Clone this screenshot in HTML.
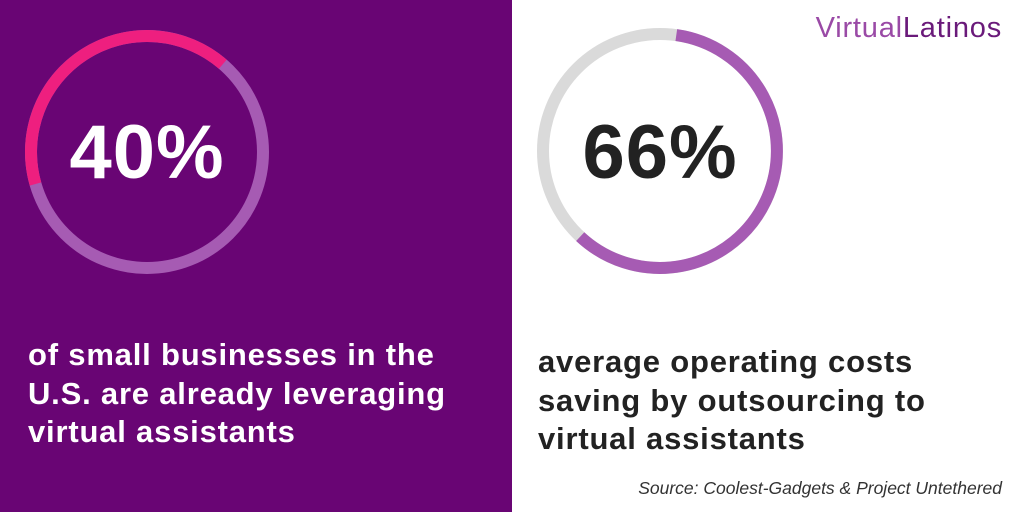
<!DOCTYPE html>
<html><head><style>
body{margin:0;width:1024px;height:512px;overflow:hidden;background:#fff;font-family:"Liberation Sans",sans-serif;position:relative}
.l{position:absolute;left:0;top:0;width:512px;height:512px;background:#690574}
.t{position:absolute;font-weight:bold;font-size:31px;line-height:38.5px;letter-spacing:0.8px;white-space:nowrap}
</style></head><body>
<div class="l"></div>
<svg width="1024" height="512" style="position:absolute;left:0;top:0">
<circle cx="147" cy="152" r="116" fill="none" stroke="#a65bb3" stroke-width="12"/>
<path d="M 222.8 64.2 A 116 116 0 0 0 35.5 184.0" fill="none" stroke="#ee1f7f" stroke-width="12"/>
<circle cx="660" cy="151" r="117" fill="none" stroke="#dadada" stroke-width="12"/>
<path d="M 676.3 35.1 A 117 117 0 1 1 580.2 236.6" fill="none" stroke="#a65bb3" stroke-width="12"/>
<text x="147" y="178" text-anchor="middle" font-family="Liberation Sans" font-weight="bold" font-size="76" fill="#fff" letter-spacing="1">40%</text>
<text x="660" y="178" text-anchor="middle" font-family="Liberation Sans" font-weight="bold" font-size="76" fill="#222" letter-spacing="1">66%</text>
</svg>
<div class="t" style="left:28px;top:336px;color:#fff">of small businesses in the<br>U.S. are already leveraging<br>virtual assistants</div>
<div class="t" style="left:538px;top:343px;color:#222">average operating costs<br>saving by outsourcing to<br>virtual assistants</div>
<div style="position:absolute;right:22px;top:478px;font-style:italic;font-size:17.5px;color:#333;white-space:nowrap">Source: Coolest-Gadgets &amp; Project Untethered</div>
<div style="position:absolute;right:22px;top:12px;font-size:29px;letter-spacing:0.8px;white-space:nowrap"><span style="color:#9a4aa6">Virtual</span><span style="color:#6a1a7a">Latinos</span></div>
</body></html>
